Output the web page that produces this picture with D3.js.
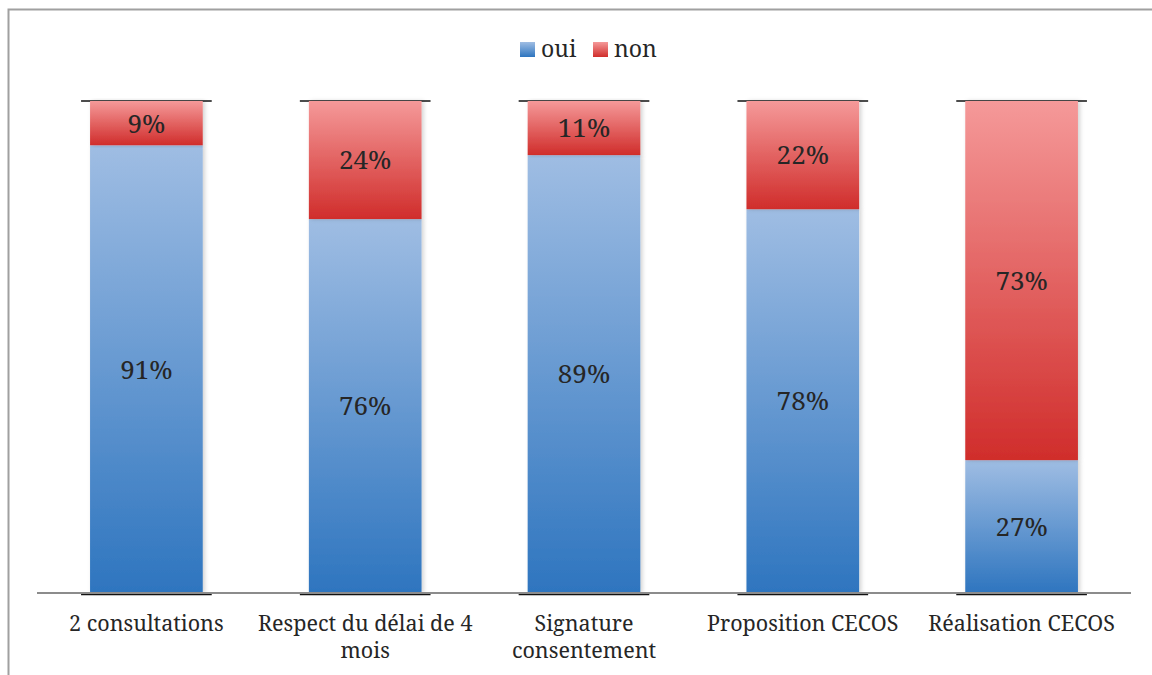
<!DOCTYPE html>
<html>
<head>
<meta charset="utf-8">
<script src="https://d3js.org/d3.v7.min.js"></script>
<style>
  body { margin: 0; background: #fff; }
</style>
</head>
<body>
<svg width="1152" height="675"></svg>
<script>
// chart data
const categories = ['2 consultations', 'Respect du délai de 4 mois', 'Signature consentement', 'Proposition CECOS', 'Réalisation CECOS'];
const labelLines = [['2 consultations'], ['Respect du délai de 4', 'mois'], ['Signature', 'consentement'], ['Proposition CECOS'], ['Réalisation CECOS']];
const oui = [91, 76, 89, 78, 27];
const non = [9, 24, 11, 22, 73];
const seriesNames = ['oui', 'non'];

const FONT = '"Noto Serif", "Liberation Serif", serif';
const svg = d3.select('svg');
const width = 1152, height = 675;

// frame (clipped at right and bottom in the original)
svg.append('path')
    .attr('d', 'M8.5,675 L8.5,9.5 L1152,9.5')
    .attr('fill', 'none')
    .attr('stroke', '#a0a0a0')
    .attr('stroke-width', 2);

const margin = { top: 101, left: 37, right: 21, bottom: 82 };
const innerW = width - margin.left - margin.right;
const innerH = height - margin.top - margin.bottom;

const g = svg.append('g').attr('transform', `translate(${margin.left},${margin.top})`);

const x = d3.scaleBand().domain(categories).range([0, innerW]).paddingInner(0.485).paddingOuter(0.2425);
const y = d3.scaleLinear().domain([0, 100]).range([innerH, 0]);

// gradients
const defs = svg.append('defs');
const grads = { oui: ['#9fbde3', '#2e75bf'], non: ['#f59999', '#d02d2b'] };
Object.entries(grads).forEach(([k, c]) => {
    const gr = defs.append('linearGradient').attr('id', 'grad-' + k)
        .attr('x1', 0).attr('y1', 0).attr('x2', 0).attr('y2', 1);
    gr.append('stop').attr('offset', '0%').attr('stop-color', c[0]);
    gr.append('stop').attr('offset', '100%').attr('stop-color', c[1]);
});
const shadow = defs.append('filter').attr('id', 'shadow')
    .attr('x', '-20%').attr('y', '-5%').attr('width', '140%').attr('height', '110%');
shadow.append('feDropShadow').attr('dx', 2).attr('dy', 0).attr('stdDeviation', 2)
    .attr('flood-color', '#000').attr('flood-opacity', 0.18);

const data = categories.map((c, i) => ({ cat: c, oui: oui[i], non: non[i] }));
const stacked = d3.stack().keys(seriesNames)(data);

// cap lines above and below each bar
const ext = 9;
g.selectAll('.cap').data(categories.flatMap(c => [[c, 0], [c, 100]]))
    .enter().append('line')
    .attr('x1', d => x(d[0]) - ext)
    .attr('x2', d => x(d[0]) + x.bandwidth() + ext)
    .attr('y1', d => y(d[1]) + (d[1] === 0 ? 1.5 : 0))
    .attr('y2', d => y(d[1]) + (d[1] === 0 ? 1.5 : 0))
    .attr('stroke', '#111')
    .attr('stroke-width', 1.5);

const layers = g.selectAll('.layer').data(stacked).enter().append('g')
    .attr('fill', d => `url(#grad-${d.key})`);

layers.selectAll('rect').data(d => d).enter().append('rect')
    .attr('x', d => x(d.data.cat))
    .attr('y', d => y(d[1]))
    .attr('width', x.bandwidth())
    .attr('height', d => y(d[0]) - y(d[1]))
    .attr('filter', 'url(#shadow)');

layers.selectAll('text').data(d => d).enter().append('text')
    .attr('x', d => x(d.data.cat) + x.bandwidth() / 2)
    .attr('y', d => (y(d[0]) + y(d[1])) / 2)
    .attr('dy', '0.36em')
    .attr('text-anchor', 'middle')
    .style('font-family', FONT)
    .style('font-size', '26px')
    .style('fill', '#262626')
    .text(d => (d[1] - d[0]) + '%');

// x axis baseline
g.append('line')
    .attr('x1', 0).attr('x2', innerW)
    .attr('y1', innerH).attr('y2', innerH)
    .attr('stroke', '#8c8c8c').attr('stroke-width', 2);

// category labels, one text per line
const lines = categories.flatMap((c, i) => labelLines[i].map((t, j) => ({ cat: c, t, j })));
g.selectAll('.lbl').data(lines).enter().append('text')
    .attr('x', d => x(d.cat) + x.bandwidth() / 2)
    .attr('y', d => innerH + 38 + d.j * 26.5)
    .attr('text-anchor', 'middle')
    .style('font-family', FONT)
    .style('font-size', '21.5px')
    .style('fill', '#262626')
    .text(d => d.t);

// legend
const legend = svg.append('g').attr('transform', 'translate(520,42)');
const legX = [0, 73];
seriesNames.forEach((s, i) => {
    legend.append('rect')
        .attr('x', legX[i]).attr('y', 0)
        .attr('width', 15).attr('height', 15)
        .attr('fill', `url(#grad-${s})`);
    legend.append('text')
        .attr('x', legX[i] + 21).attr('y', 15)
        .style('font-family', FONT)
        .style('font-size', '23px')
        .style('fill', '#262626')
        .text(s);
});
</script>
</body>
</html>
